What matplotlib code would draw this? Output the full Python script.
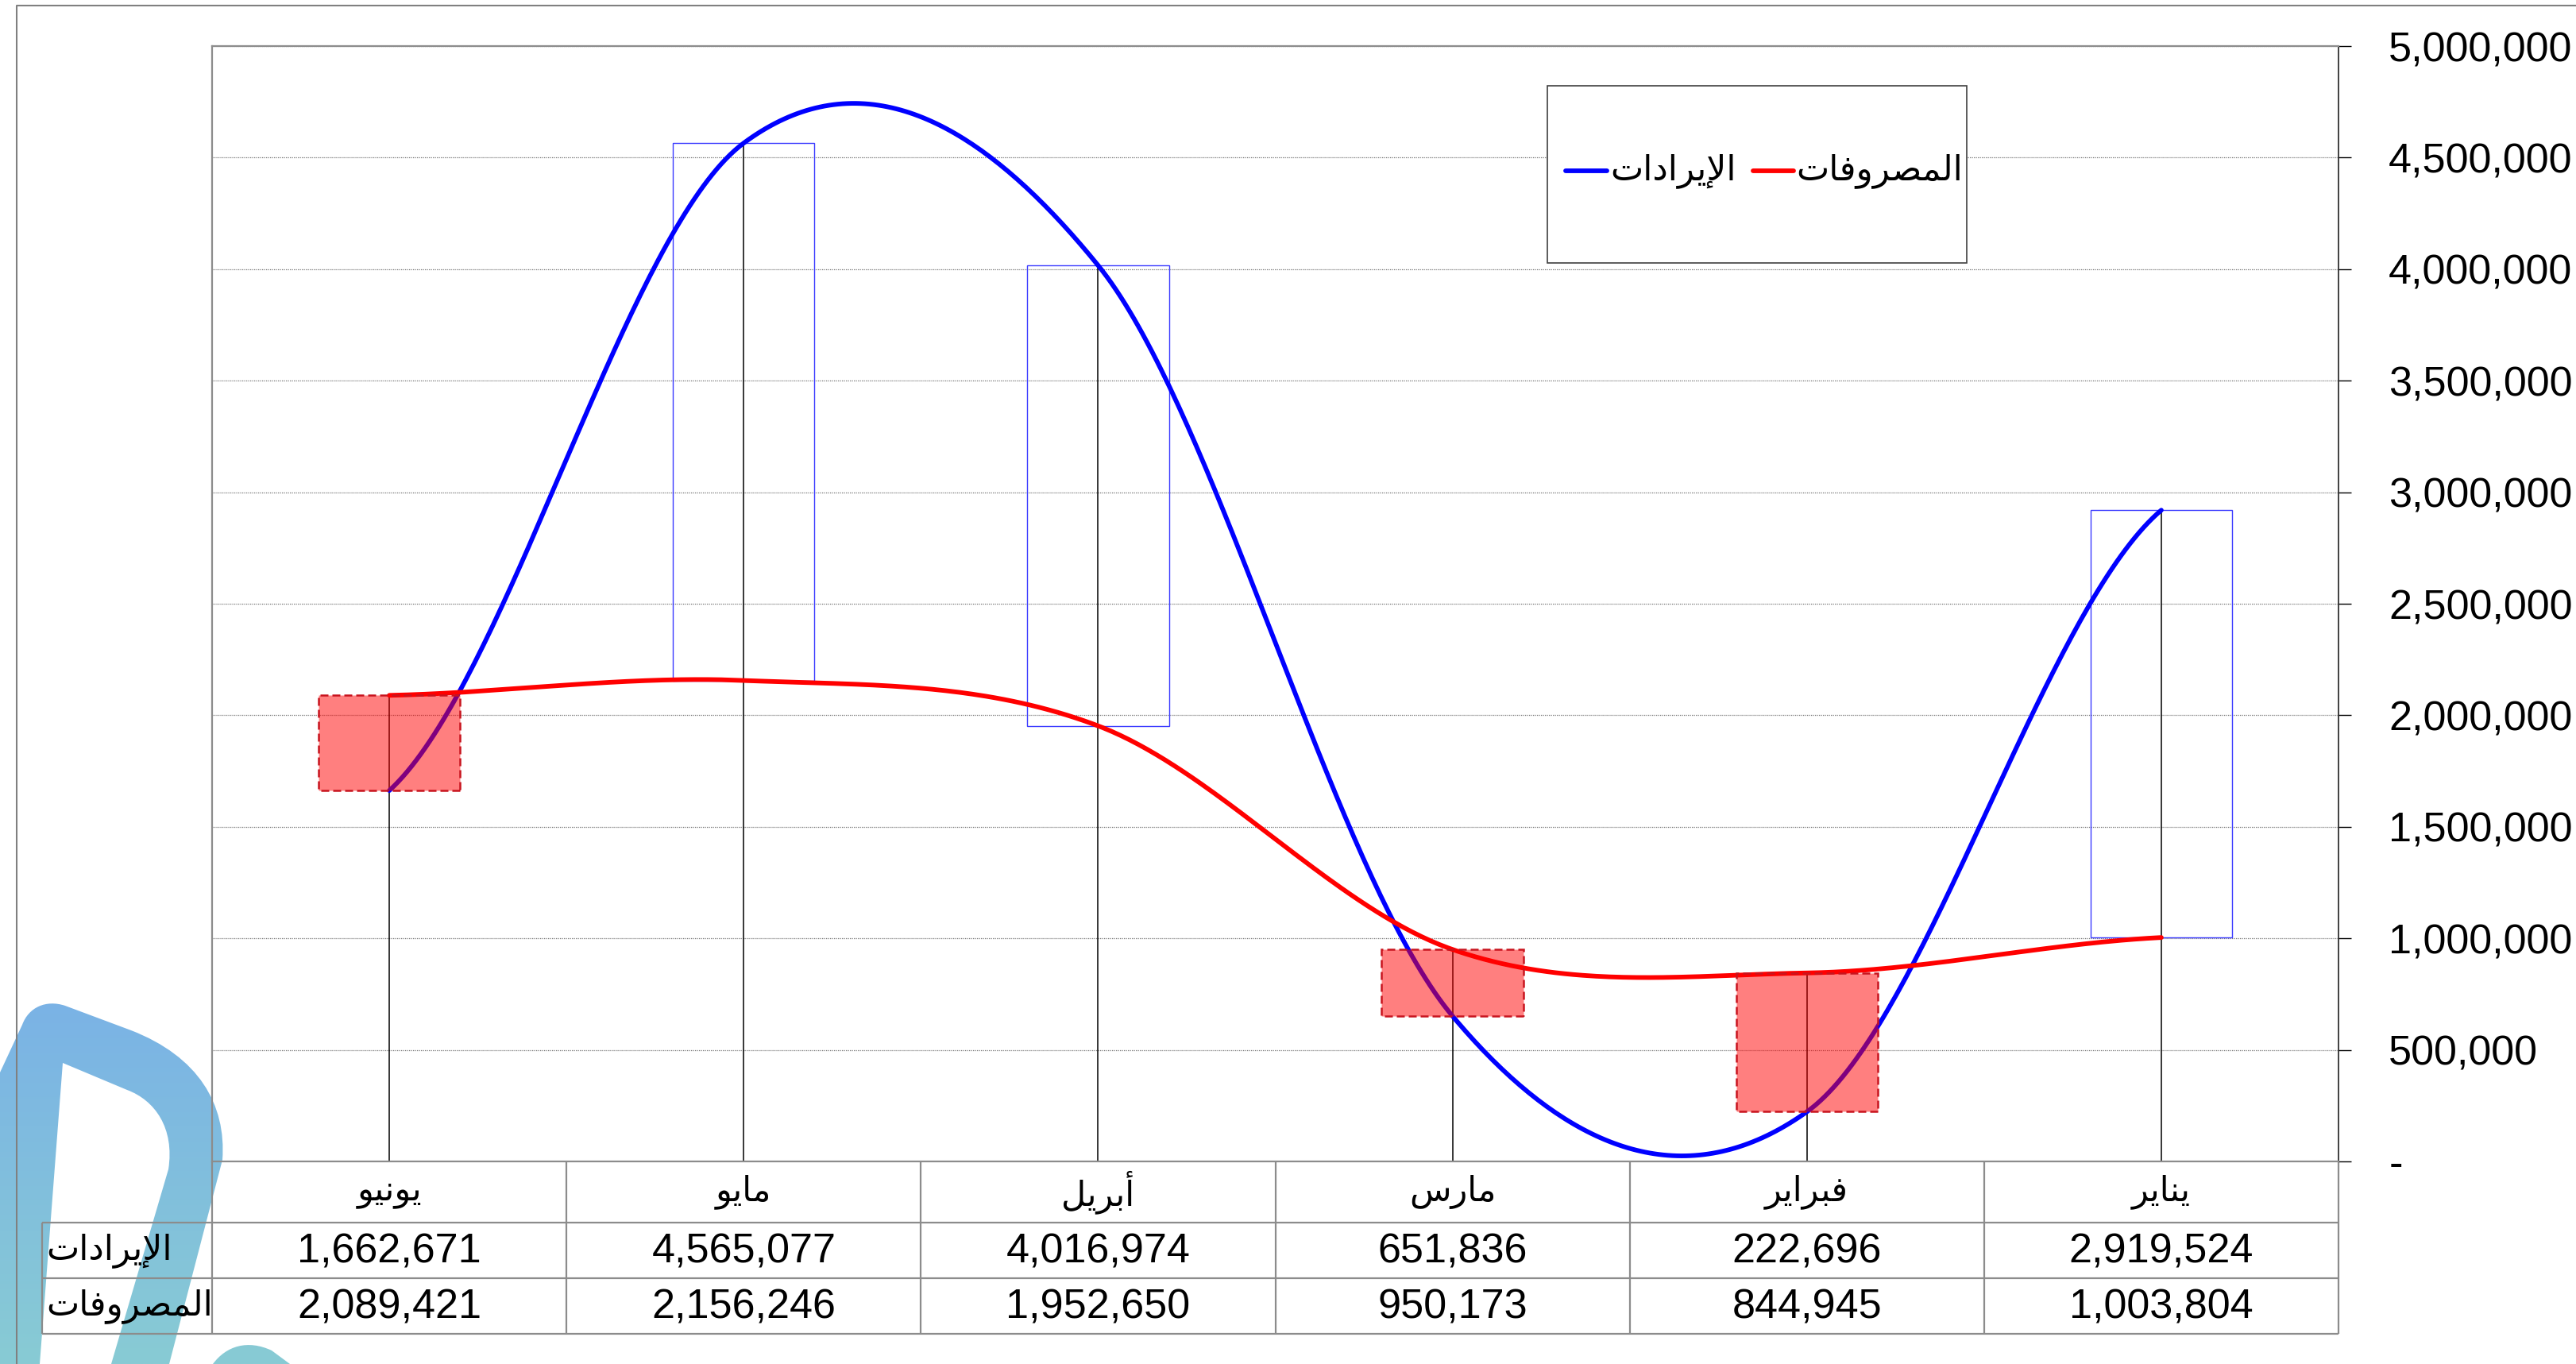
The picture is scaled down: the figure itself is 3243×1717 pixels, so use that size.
import numpy as np
import matplotlib
matplotlib.use("Agg")
import matplotlib.pyplot as plt
from matplotlib.patches import Rectangle, PathPatch
from matplotlib.path import Path
from matplotlib.colors import LinearSegmentedColormap
from matplotlib.ticker import FuncFormatter, FixedLocator
import matplotlib.transforms as mtransforms

plt.rcParams['font.family'] = ['Liberation Sans', 'DejaVu Sans']

# data (January first, drawn right-to-left)
months = ['يناير', 'فبراير', 'مارس', 'أبريل', 'مايو', 'يونيو']
revenue = [2919524, 222696, 651836, 4016974, 4565077, 1662671]
expenses = [1003804, 844945, 950173, 1952650, 2156246, 2089421]
label_rev = 'الإيرادات'
label_exp = 'المصروفات'
yticks = [0, 500000, 1000000, 1500000, 2000000, 2500000, 3000000,
          3500000, 4000000, 4500000, 5000000]

# matplotlib has no arabic shaping, so pick presentation forms by hand
FORMS = {
    'ا': ('\ufe8d', '\ufe8e', None, None),
    'أ': ('\ufe83', '\ufe84', None, None),
    'إ': ('\ufe87', '\ufe88', None, None),
    'ب': ('\ufe8f', '\ufe90', '\ufe91', '\ufe92'),
    'ت': ('\ufe95', '\ufe96', '\ufe97', '\ufe98'),
    'د': ('\ufea9', '\ufeaa', None, None),
    'ر': ('\ufead', '\ufeae', None, None),
    'س': ('\ufeb1', '\ufeb2', '\ufeb3', '\ufeb4'),
    'ص': ('\ufeb9', '\ufeba', '\ufebb', '\ufebc'),
    'ف': ('\ufed1', '\ufed2', '\ufed3', '\ufed4'),
    'ل': ('\ufedd', '\ufede', '\ufedf', '\ufee0'),
    'م': ('\ufee1', '\ufee2', '\ufee3', '\ufee4'),
    'ن': ('\ufee5', '\ufee6', '\ufee7', '\ufee8'),
    'و': ('\ufeed', '\ufeee', None, None),
    'ي': ('\ufef1', '\ufef2', '\ufef3', '\ufef4'),
    'لا': ('\ufefb', '\ufefc', None, None),
    'لأ': ('\ufef7', '\ufef8', None, None),
    'لإ': ('\ufef9', '\ufefa', None, None),
}


def ar(word):
    units = []
    i = 0
    while i < len(word):
        if word[i] == 'ل' and len(word[i:i + 2]) == 2 and word[i:i + 2] in FORMS:
            units.append(word[i:i + 2])
            i += 2
        else:
            units.append(word[i])
            i += 1
    out = []
    for k, u in enumerate(units):
        if u not in FORMS:
            out.append(u)
            continue
        iso, fin, ini, med = FORMS[u]
        prev = units[k - 1] if k > 0 else None
        nxt = units[k + 1] if k + 1 < len(units) else None
        jp = prev in FORMS and FORMS[prev][2] is not None
        jn = nxt in FORMS and ini is not None
        if jp and jn:
            out.append(med)
        elif jp:
            out.append(fin)
        elif jn:
            out.append(ini)
        else:
            out.append(iso)
    return ''.join(reversed(out))


def smooth(y, n=80):
    # excel-like smoothed line: cubic bezier with 1/6 tangents
    y = np.asarray(y, float)
    ext = np.r_[y[0], y, y[-1]]
    t = np.linspace(0, 1, n)
    xs, ys = [], []
    for i in range(len(y) - 1):
        p0, p3 = ext[i + 1], ext[i + 2]
        c1 = p0 + (ext[i + 2] - ext[i]) / 6
        c2 = p3 - (ext[i + 3] - ext[i + 1]) / 6
        b = (1 - t) ** 3 * p0 + 3 * (1 - t) ** 2 * t * c1 + 3 * (1 - t) * t ** 2 * c2 + t ** 3 * p3
        xs.append(i + t)
        ys.append(b)
    return np.concatenate(xs), np.concatenate(ys)


W, H = 3243, 1717
fig = plt.figure(figsize=(W / 100, H / 100), dpi=100)

# plot area in pixels
PL, PR, PT, PB = 267, 2944, 58, 1462

# overlay in pixel coordinates for watermark and data table
ov = fig.add_axes([0, 0, 1, 1], zorder=-1)

# watermark logo (bottom left)
M, L, C, Z = Path.MOVETO, Path.LINETO, Path.CURVE4, Path.CLOSEPOLY
shape = [((0, 1350), M), ((28, 1290), L),
         ((36, 1268), C), ((58, 1258), C), ((82, 1266), C),
         ((165, 1297), L),
         ((250, 1330), C), ((285, 1390), C), ((280, 1460), C),
         ((213, 1717), L), ((140, 1717), L), ((212, 1472), L),
         ((220, 1420), C), ((195, 1385), C), ((160, 1372), C),
         ((79, 1338), L), ((50, 1717), L), ((0, 1717), L), ((0, 1350), Z)]
blob = [((268, 1717), M), ((285, 1694), C), ((312, 1686), C),
        ((342, 1700), C), ((365, 1717), L), ((268, 1717), Z)]
verts = [v for v, c in shape + blob]
codes = [c for v, c in shape + blob]
logo = PathPatch(Path(verts, codes), facecolor='none', edgecolor='none')
ov.add_patch(logo)
grad = np.linspace(0, 1, 256).reshape(-1, 1)
wm_cmap = LinearSegmentedColormap.from_list('wm', ['#7ab2e6', '#88cbd4'])
im = ov.imshow(grad, extent=(0, 420, 1717, 1250), cmap=wm_cmap, aspect='auto', zorder=0)
im.set_clip_path(logo)

ov.set_xlim(0, W)
ov.set_ylim(H, 0)
ov.axis('off')

# chart area border (left and top visible)
ov.plot([21, 21, W + 10], [H + 10, 7, 7], color='#808080', lw=1.5, zorder=3)

# main chart
ax = fig.add_axes([PL / W, 1 - PB / H, (PR - PL) / W, (PB - PT) / H])
ax.set_facecolor('none')
x = np.arange(len(months))
ax.set_xlim(len(months) - 0.5, -0.5)
ax.set_ylim(0, 5000000)

ax.yaxis.set_major_locator(FixedLocator(yticks))
ax.yaxis.set_major_formatter(FuncFormatter(lambda v, p: '-' if v == 0 else f'{v:,.0f}'))
ax.yaxis.tick_right()
ax.tick_params(axis='y', direction='out', length=11.5, width=1, pad=34, labelsize=37.5,
               colors='black')
ax.tick_params(axis='x', length=0, labelbottom=False)
ax.grid(axis='y', color='#7a7a7a', ls=(0, (1, 1)), lw=0.9, zorder=0)
for s in ['left', 'top', 'bottom']:
    ax.spines[s].set_color('#8c8c8c')
    ax.spines[s].set_linewidth(1.6)
ax.spines['right'].set_color('#202020')
ax.spines['right'].set_linewidth(1.2)

# up bars (revenue above expenses)
bw = 0.4
for i in x:
    lo, hi = min(revenue[i], expenses[i]), max(revenue[i], expenses[i])
    if revenue[i] > expenses[i]:
        ax.add_patch(Rectangle((i - bw / 2, lo), bw, hi - lo, facecolor='none',
                               edgecolor='#3a3aff', lw=1.0, zorder=2))
# drop lines
ax.vlines(x, 0, np.maximum(revenue, expenses), color='black', lw=1.1, zorder=2.5)

xr, yr = smooth(revenue)
xe, ye = smooth(expenses)
ax.plot(xr, yr, color='#0000ff', lw=4.2, solid_capstyle='round', zorder=3)
ax.plot(xe, ye, color='#ff0000', lw=4.2, solid_capstyle='round', zorder=3)

# down bars (expenses above revenue)
for i in x:
    lo, hi = min(revenue[i], expenses[i]), max(revenue[i], expenses[i])
    if revenue[i] <= expenses[i]:
        ax.add_patch(Rectangle((i - bw / 2, lo), bw, hi - lo, facecolor=(1, 0, 0, 0.5),
                               edgecolor='#c8141e', lw=1.8, ls=(0, (4, 2)), zorder=4))

# data table
tr = mtransforms.blended_transform_factory(ax.transData, ov.transData)
rows = [1462, 1539, 1609, 1679]
gc = '#8c8c8c'
edges = np.arange(len(months) + 1) - 0.5
ov.vlines(edges, rows[0], rows[3], color=gc, lw=1.6, transform=tr, zorder=3)
ov.hlines(rows[1:], -0.5, len(months) - 0.5, color=gc, lw=1.6, transform=tr, zorder=3)
ov.hlines(rows[1:], 53, PL, color=gc, lw=1.6, zorder=3)
ov.vlines(53, rows[1], rows[3], color=gc, lw=1.6, zorder=3)

for i in x:
    ov.text(i, (rows[0] + rows[1]) / 2, ar(months[i]), transform=tr, ha='center',
            va='center', fontsize=31, zorder=4)
    ov.text(i, (rows[1] + rows[2]) / 2 + 2, f'{revenue[i]:,}', transform=tr, ha='center',
            va='center', fontsize=37.5, zorder=4)
    ov.text(i, (rows[2] + rows[3]) / 2 + 2, f'{expenses[i]:,}', transform=tr, ha='center',
            va='center', fontsize=37.5, zorder=4)
ov.text(58, (rows[1] + rows[2]) / 2, ar(label_rev), ha='left', va='center', fontsize=31.5, zorder=4)
ov.text(58, (rows[2] + rows[3]) / 2, ar(label_exp), ha='left', va='center', fontsize=31.5, zorder=4)

# legend box
lg = fig.add_axes([0, 0, 1, 1], zorder=5)
lg.set_xlim(0, W)
lg.set_ylim(H, 0)
lg.axis('off')
lg.add_patch(Rectangle((1948, 108), 528, 223, facecolor='white', edgecolor='#404040', lw=1.2))
ly = 215
lg.plot([1971, 2023], [ly, ly], color='#0000ff', lw=4.2, solid_capstyle='round')
lg.text(2027, ly, ar(label_rev), ha='left', va='center', fontsize=31.5)
lg.plot([2207, 2258], [ly, ly], color='#ff0000', lw=4.2, solid_capstyle='round')
lg.text(2261, ly, ar(label_exp), ha='left', va='center', fontsize=31.5)

fig.savefig('out.png', dpi=100)
